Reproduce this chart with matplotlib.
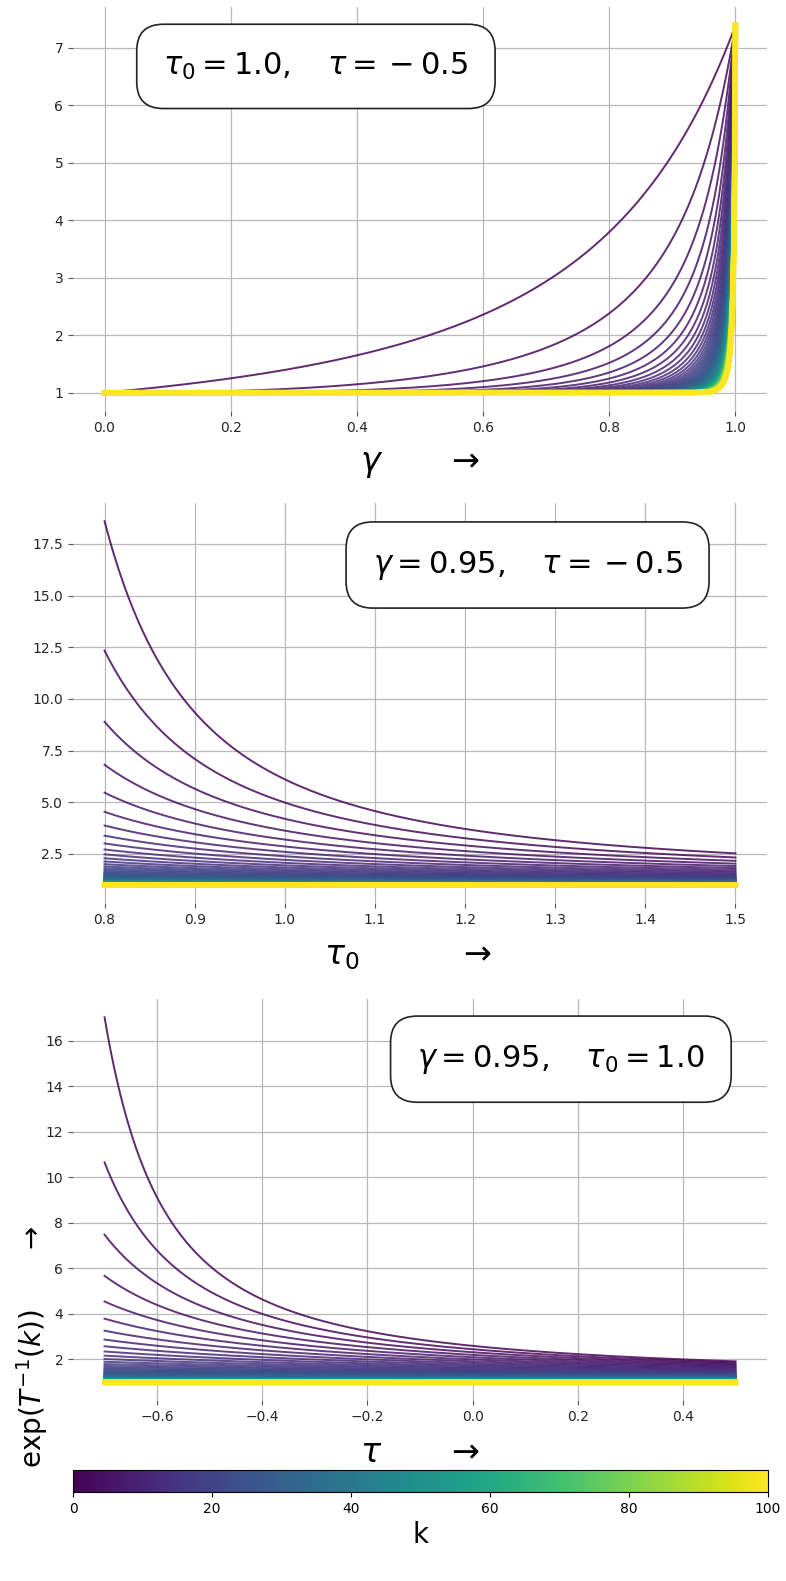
import numpy as np
import matplotlib
matplotlib.use("Agg")
import matplotlib.pyplot as plt
from matplotlib import cm, colors

# Iteration index k of the annealing schedule
k_values = np.linspace(1, 100, 80)

# Swept parameters (x axes of the three panels)
gamma_grid = np.linspace(0.0, 1.0, 2001)
tau0_grid = np.linspace(0.8, 1.5, 400)
tau_grid = np.linspace(-0.7, 0.5, 400)

# Fixed parameters for each panel
panel1_tau0, panel1_tau = 1.0, -0.5
panel2_gamma, panel2_tau = 0.95, -0.5
panel3_gamma, panel3_tau0 = 0.95, 1.0

colorbar_ticks = [0, 20, 40, 60, 80, 100]


def exp_inv_temperature(k, gamma, tau0, tau):
    """exp(1 / T(k)) with the schedule T(k) = tau0 * gamma**(-k) + tau."""
    with np.errstate(divide="ignore", over="ignore"):
        T = tau0 / np.power(gamma, k) + tau
        return np.exp(1.0 / T)


cmap = plt.get_cmap("viridis")
norm = colors.Normalize(vmin=0, vmax=100)

W, H = 786, 1581
fig = plt.figure(figsize=(W / 100, H / 100), dpi=100)


def px_axes(left, top, right, bottom):
    return fig.add_axes([left / W, 1 - bottom / H, (right - left) / W, (bottom - top) / H])


ax1 = px_axes(73, 7, 767, 411)
ax2 = px_axes(73, 503, 767, 903)
ax3 = px_axes(73, 999, 767, 1400)
cax = px_axes(73, 1470, 768, 1492)


def line_width(k):
    return 1.4 + 2.6 * (k / 100.0) ** 2


for k in k_values:
    c = cmap(norm(k))
    lw = line_width(k)
    ax1.plot(gamma_grid, exp_inv_temperature(k, gamma_grid, panel1_tau0, panel1_tau),
             color=c, lw=lw, alpha=0.85)
    ax2.plot(tau0_grid, exp_inv_temperature(k, panel2_gamma, tau0_grid, panel2_tau),
             color=c, lw=lw, alpha=0.85)
    ax3.plot(tau_grid, exp_inv_temperature(k, panel3_gamma, panel3_tau0, tau_grid),
             color=c, lw=lw, alpha=0.85)

box = dict(boxstyle="round,pad=0.87", facecolor="white", edgecolor="#222222", lw=1.2)
ax1.text(0.35, 0.853, r"$\tau_0 = 1.0, \quad \tau = {}-0.5$", transform=ax1.transAxes,
         ha="center", va="center", fontsize=22, bbox=box)
ax2.text(0.655, 0.845, r"$\gamma = 0.95, \quad \tau = {}-0.5$", transform=ax2.transAxes,
         ha="center", va="center", fontsize=22, bbox=box)
ax3.text(0.703, 0.85, r"$\gamma = 0.95, \quad \tau_0 = 1.0$", transform=ax3.transAxes,
         ha="center", va="center", fontsize=22, bbox=box)

ax1.set_xlabel(r"$\gamma \qquad \rightarrow$", fontsize=24, labelpad=9)
ax2.set_xlabel(r"$\tau_0 \qquad\quad \rightarrow$", fontsize=24, labelpad=9)
ax3.set_xlabel(r"$\tau \qquad \rightarrow$", fontsize=24, labelpad=9)
ax2.xaxis.label.set_x(0.483)

for ax in (ax1, ax2, ax3):
    ax.grid(True, color="#b8b8b8", lw=0.9)
    for s in ax.spines.values():
        s.set_visible(False)
    ax.tick_params(labelsize=10, color="#555555", labelcolor="#262626")

ax1.set_xticks([0.0, 0.2, 0.4, 0.6, 0.8, 1.0])
ax2.set_xticks([0.8, 0.9, 1.0, 1.1, 1.2, 1.3, 1.4, 1.5])
ax3.set_xticks([-0.6, -0.4, -0.2, 0.0, 0.2, 0.4])

fig.text(32 / W, 1 - 1468 / H, r"$\exp(T^{-1}(k)) \qquad \rightarrow$", rotation=90,
         ha="center", va="bottom", fontsize=20)

sm = cm.ScalarMappable(norm=norm, cmap=cmap)
cb = fig.colorbar(sm, cax=cax, orientation="horizontal", ticks=colorbar_ticks)
cb.set_label("k", fontsize=20)
cb.ax.tick_params(labelsize=10)
cb.outline.set_linewidth(0.8)

fig.savefig("out.png", dpi=100)
